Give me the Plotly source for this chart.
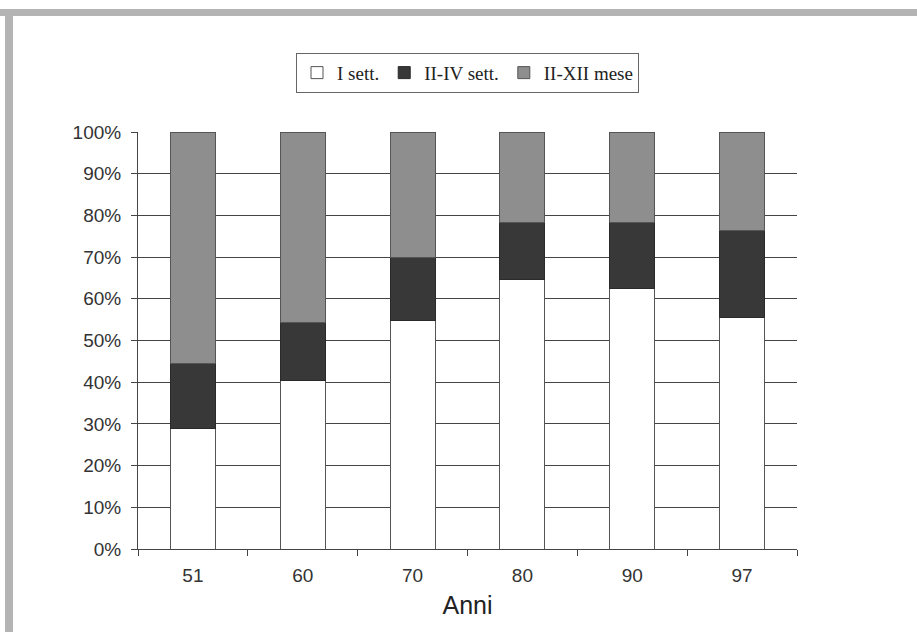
import plotly.graph_objects as go

anni = ["51", "60", "70", "80", "90", "97"]
i_sett = [28.8, 40.5, 54.9, 64.7, 62.4, 55.6]
ii_iv_sett = [15.8, 13.9, 14.9, 13.5, 15.8, 20.7]
ii_xii_mese = [55.4, 45.6, 30.2, 21.8, 21.8, 23.7]

series = [
    ("I sett.", i_sett, "#ffffff", "#555555"),
    ("II-IV sett.", ii_iv_sett, "#383838", "#2a2a2a"),
    ("II-XII mese", ii_xii_mese, "#8e8e8e", "#555555"),
]

fig = go.Figure()
for name, vals, col, lc in series:
    fig.add_trace(go.Bar(
        x=anni, y=vals, name=name,
        marker=dict(color=col, line=dict(color=lc, width=1)),
        width=0.41,
    ))

fig.update_layout(
    barmode="stack",
    width=917, height=632,
    paper_bgcolor="white", plot_bgcolor="white",
    margin=dict(l=138, r=120, t=132, b=83),
    showlegend=True,
    legend=dict(
        orientation="h", x=0.5, xanchor="center", y=1.19, yanchor="top",
        font=dict(family="Liberation Serif, Times New Roman, serif", size=19, color="#222"),
        bordercolor="#666", borderwidth=1, bgcolor="white",
        traceorder="normal", itemwidth=30, tracegroupgap=0,
    ),
    font=dict(family="Liberation Sans, Arial, sans-serif", color="#333"),
)

fig.update_xaxes(
    type="category",
    showline=True, linecolor="#444", linewidth=1,
    ticks="outside", tickson="boundaries", ticklen=6, tickcolor="#444",
    tickfont=dict(size=19, color="#333"),
    ticklabelstandoff=9,
    title=dict(text="Anni", font=dict(size=25, color="#222"), standoff=11),
    showgrid=False,
)
fig.update_yaxes(
    range=[0, 100], dtick=10, ticksuffix="%",
    showline=True, linecolor="#444", linewidth=1,
    ticks="outside", ticklen=6, tickcolor="#444",
    tickfont=dict(size=19, color="#333"),
    ticklabelstandoff=6,
    showgrid=True, gridcolor="#444", gridwidth=1,
    zeroline=False,
)

# outer frame (top and left)
fig.add_shape(type="rect", xref="paper", yref="paper",
              x0=-138/659, x1=1 + 120/659, y0=1 + (132-16)/417, y1=1 + (132-9)/417,
              fillcolor="#b4b4b4", line=dict(width=0), layer="below")
fig.add_shape(type="rect", xref="paper", yref="paper",
              x0=-(138-5)/659, x1=-(138-13)/659, y0=-83/417, y1=1 + (132-9)/417,
              fillcolor="#b4b4b4", line=dict(width=0), layer="below")

fig.write_html("out.html")
